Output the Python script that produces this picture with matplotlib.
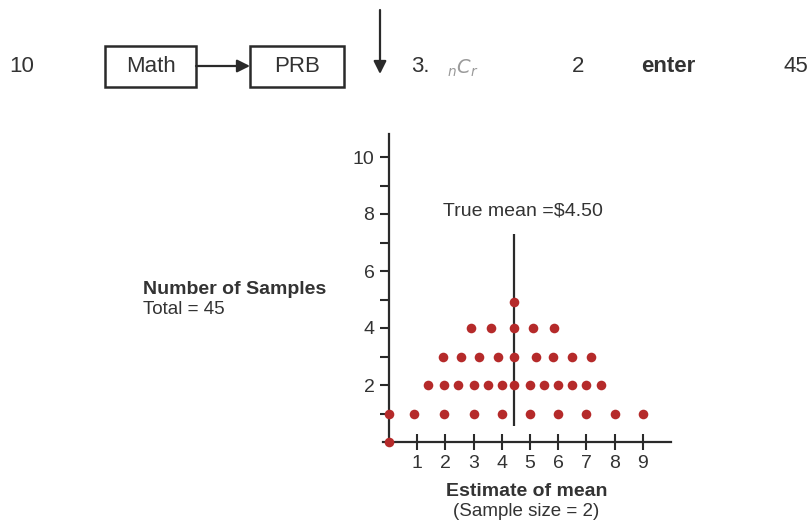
import matplotlib
matplotlib.use("Agg")
import matplotlib.pyplot as plt
from matplotlib.patches import Rectangle, FancyArrowPatch

plt.rcParams['font.family'] = ['Liberation Sans', 'DejaVu Sans']

# ---- data (dot positions as drawn) ----
row_levels = [1, 2, 3, 4, 4.9]
row1_x = [0, 0.9, 1.95, 3.0, 4.0, 5.0, 6.0, 7.0, 8.0, 9.0]
row2_x = [1.4, 1.95, 2.45, 3.0, 3.5, 4.0, 4.45, 5.0, 5.5, 6.0, 6.5, 7.0, 7.5]
row3_x = [1.9, 2.55, 3.2, 3.85, 4.45, 5.2, 5.8, 6.5, 7.15]
row4_x = [2.9, 3.6, 4.45, 5.1, 5.85]
row5_x = [4.45]
origin_x, origin_y = [0], [0]
true_mean_x = 4.45
true_mean_span = (0.56, 7.3)
x_ticks = [1, 2, 3, 4, 5, 6, 7, 8, 9]
y_major = [2, 4, 6, 8, 10]
y_minor = [1, 3, 5, 7, 9]

W, H = 811, 521
fig = plt.figure(figsize=(W / 100, H / 100), dpi=100)

def fx(px):
    return px / W

def fy(py):
    return 1 - py / H

# axes placement: x=0 -> px 389, 28.2 px/unit ; y=0 -> px 442, 28.5 px/unit
x0, xs = 389, 28.2
y0, ys = 442, 28.5
xmin, xmax = -0.2, 10.0
ymin, ymax = 0, 10.8
left = x0 + xmin * xs
right = x0 + xmax * xs
top = y0 - ymax * ys
ax = fig.add_axes([fx(left), fy(y0), (right - left) / W, (y0 - top) / H])
ax.set_xlim(xmin, xmax)
ax.set_ylim(ymin, ymax)
ax.patch.set_alpha(0)

ink = '#2a2a2a'
for s in ['top', 'right']:
    ax.spines[s].set_visible(False)
ax.spines['left'].set_position(('data', 0))
ax.spines['bottom'].set_position(('data', 0))
for s in ['left', 'bottom']:
    ax.spines[s].set_color(ink)
    ax.spines[s].set_linewidth(1.6)

ax.set_xticks(x_ticks)
ax.set_xticklabels([str(t) for t in x_ticks])
ax.set_yticks(y_major)
ax.set_yticklabels([str(t) for t in y_major])
ax.set_yticks(y_minor, minor=True)
ax.tick_params(axis='x', direction='inout', length=11, width=1.5, color=ink,
               labelsize=14, labelcolor='#333333', pad=4)
ax.tick_params(axis='y', which='both', direction='out', length=6.5, width=1.5,
               color=ink, labelsize=14, labelcolor='#333333', pad=4)

dot_color = '#b52a2a'
rows = [row1_x, row2_x, row3_x, row4_x, row5_x]
for xs_row, lvl in zip(rows, row_levels):
    ax.scatter(xs_row, [lvl] * len(xs_row), s=48, color=dot_color, zorder=3,
               clip_on=False, linewidths=0)
ax.scatter(origin_x, origin_y, s=48, color=dot_color, zorder=4, clip_on=False,
           linewidths=0)

ax.vlines(true_mean_x, true_mean_span[0], true_mean_span[1], color=ink,
          linewidth=1.6, zorder=2)
ax.text(4.75, 8.1, 'True mean =$4.50', ha='center', va='center', fontsize=14,
        color='#333333')

# axis labels
fig.text(fx(527), fy(492), 'Estimate of mean', ha='center', va='center',
         fontsize=14, fontweight='bold', color='#333333')
fig.text(fx(526), fy(511), '(Sample size = 2)', ha='center', va='center',
         fontsize=13.5, color='#333333')
fig.text(fx(143), fy(289), 'Number of Samples', ha='left', va='center',
         fontsize=14, fontweight='bold', color='#333333')
fig.text(fx(143), fy(310), 'Total = 45', ha='left', va='center',
         fontsize=13.5, color='#333333')

# ---- top calculator key sequence ----
ty = 66
fig.text(fx(22), fy(ty), '10', ha='center', va='center', fontsize=16, color='#333333')
box_h = 41
for (bx0, bx1, label) in [(105, 196, 'Math'), (250, 344, 'PRB')]:
    fig.add_artist(Rectangle((fx(bx0), fy(ty + box_h / 2)), (bx1 - bx0) / W, box_h / H,
                             transform=fig.transFigure, fill=False,
                             edgecolor=ink, linewidth=1.8))
    fig.text(fx((bx0 + bx1) / 2), fy(ty), label, ha='center', va='center',
             fontsize=16, color='#333333')
fig.add_artist(FancyArrowPatch((fx(196), fy(ty)), (fx(250), fy(ty)),
                               transform=fig.transFigure, arrowstyle='-|>',
                               mutation_scale=19, color=ink, linewidth=1.6,
                               shrinkA=0, shrinkB=0))
fig.add_artist(FancyArrowPatch((fx(380), fy(10)), (fx(380), fy(74)),
                               transform=fig.transFigure, arrowstyle='-|>',
                               mutation_scale=19, color=ink, linewidth=1.6,
                               shrinkA=0, shrinkB=0))
fig.text(fx(420), fy(ty), '3.', ha='center', va='center', fontsize=16, color='#333333')
fig.text(fx(463), fy(ty + 2), r'${}_{n}C_{r}$', ha='center', va='center',
         fontsize=14, color='#9a9a9a')
fig.text(fx(578), fy(ty), '2', ha='center', va='center', fontsize=16, color='#333333')
fig.text(fx(668), fy(ty), 'enter', ha='center', va='center', fontsize=16,
         fontweight='bold', color='#333333')
fig.text(fx(796), fy(ty), '45', ha='center', va='center', fontsize=16, color='#333333')

fig.savefig('out.png', dpi=100)
